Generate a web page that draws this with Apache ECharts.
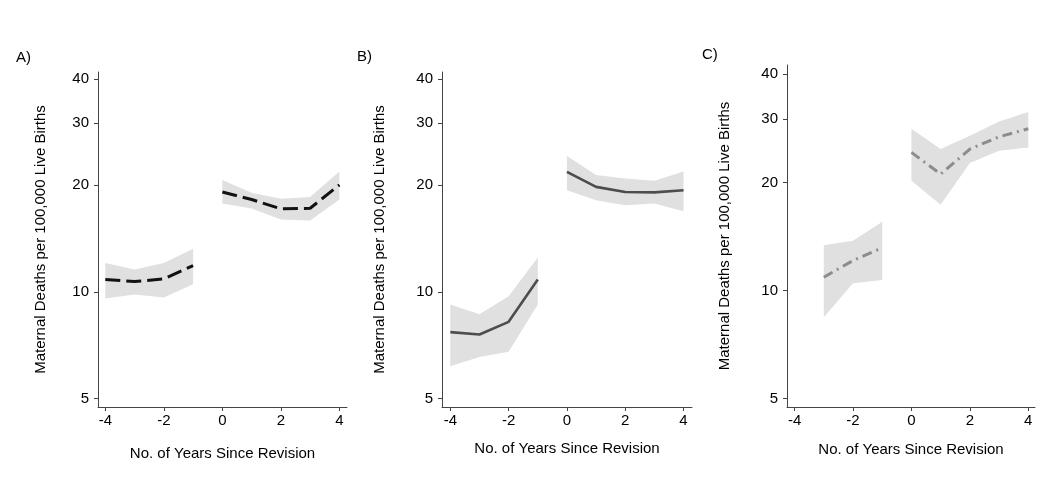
<!DOCTYPE html>
<html><head><meta charset="utf-8">
<script src="https://cdn.jsdelivr.net/npm/echarts@6/dist/echarts.min.js"></script>
<style>html,body{margin:0;padding:0;background:#fff}#c{width:1049px;height:483px}</style>
</head><body><div id="c"></div>
<script>
// ---- data ----
const xPre = [-4, -3, -2, -1];
const xPreC = [-3, -2, -1];
const xPost = [0, 1, 2, 3, 4];
const xTicks = [-4, -2, 0, 2, 4];
const yTicks = [5, 10, 20, 30, 40];

const A_est_pre = [10.84, 10.7, 10.88, 11.87];
const A_est_post = [19.16, 18.24, 17.16, 17.23, 20.05];
const A_hi_pre = [12.07, 11.57, 12.07, 13.23];
const A_hi_post = [20.7, 19.05, 18.32, 18.55, 21.88];
const A_lo_pre = [9.58, 9.83, 9.64, 10.51];
const A_lo_post = [17.78, 17.2, 16.02, 15.91, 18.24];

const B_est_pre = [7.7, 7.58, 8.23, 10.84];
const B_est_post = [21.83, 19.8, 19.16, 19.1, 19.38];
const B_hi_pre = [9.21, 8.65, 9.72, 12.5];
const B_hi_post = [24.2, 21.4, 20.9, 20.6, 21.9];
const B_lo_pre = [6.17, 6.55, 6.77, 9.21];
const B_lo_post = [19.38, 18.16, 17.58, 17.78, 16.9];

const C_est_pre = [10.89, 12.12, 13.14];
const C_est_post = [24.24, 21.1, 24.76, 26.8, 28.2];
const C_hi_pre = [13.36, 13.77, 15.55];
const C_hi_post = [28.2, 24.76, 26.97, 29.55, 31.4];
const C_lo_pre = [8.43, 10.48, 10.7];
const C_lo_post = [20.2, 17.34, 22.64, 24.5, 25.0];

const panelLabels = ['A)', 'B)', 'C)'];
const yName = 'Maternal Deaths per 100,000 Live Births';
const xName = 'No. of Years Since Revision';

// ---- chart ----
const FONT = "'Liberation Sans', Arial, sans-serif";
const AXIS_COLOR = '#444';
const BAND = '#e0e0e0';
const FS = 15;

const grids = [
  {left: 98, width: 249, top: 72, height: 335},
  {left: 442, width: 250, top: 72, height: 335},
  {left: 787, width: 248, top: 65, height: 342}
];
const xRange = [[-4.25, 4.26], [-4.285, 4.29], [-4.26, 4.23]];
const yRange = [[4.73, 41.8], [4.73, 41.8], [4.74, 42.45]];
const yNameGap = [50, 55, 55];
const xNameGap = [39, 34, 35];

function xAxis(i) {
  return {
    type: 'value', gridIndex: i, min: xRange[i][0], max: xRange[i][1],
    name: xName, nameLocation: 'middle', nameGap: xNameGap[i],
    nameTextStyle: {fontFamily: FONT, fontSize: FS, color: '#000'},
    axisLine: {show: true, onZero: false, lineStyle: {color: AXIS_COLOR, width: 1}},
    axisTick: {show: true, length: 4, customValues: xTicks, lineStyle: {color: AXIS_COLOR}},
    axisLabel: {customValues: xTicks, margin: 6, fontFamily: FONT, fontSize: FS, color: '#000'},
    splitLine: {show: false}
  };
}
function yAxis(i) {
  return {
    type: 'log', logBase: 10, gridIndex: i, min: yRange[i][0], max: yRange[i][1],
    name: yName, nameLocation: 'middle', nameGap: yNameGap[i], nameRotate: 90,
    nameTextStyle: {fontFamily: FONT, fontSize: FS, color: '#000'},
    axisLine: {show: true, onZero: false, lineStyle: {color: AXIS_COLOR, width: 1}},
    axisTick: {show: true, length: 4, customValues: yTicks, lineStyle: {color: AXIS_COLOR}},
    axisLabel: {customValues: yTicks, margin: 9, fontFamily: FONT, fontSize: FS, color: '#000',
      formatter: v => String(Math.round(v))},
    splitLine: {show: false}
  };
}
function band(i, xs, hi, lo) {
  return {
    type: 'custom', xAxisIndex: i, yAxisIndex: i, silent: true, z: 1,
    data: xs.map((x, k) => [x, hi[k], lo[k]]),
    encode: {x: 0, y: [1, 2]},
    renderItem: (params, api) => {
      if (params.dataIndex !== 0) return null;
      const top = xs.map((x, k) => api.coord([x, hi[k]]));
      const bot = xs.map((x, k) => api.coord([x, lo[k]])).reverse();
      return {type: 'polygon', shape: {points: top.concat(bot)}, style: {fill: BAND}};
    }
  };
}
function line(i, xs, ys, color, width, dash) {
  return {
    type: 'line', xAxisIndex: i, yAxisIndex: i, z: 3, silent: true,
    data: xs.map((x, k) => [x, ys[k]]),
    showSymbol: false, symbol: 'none',
    lineStyle: {color: color, width: width, type: dash, cap: 'butt'}
  };
}

const aStyle = ['#111', 3, [15, 6]];
const bStyle = ['#4d4d4d', 2.6, 'solid'];
const cStyle = ['#8c8c8c', 3, [10, 5, 2, 5]];

const option = {
  animation: false,
  backgroundColor: '#fff',
  grid: grids,
  xAxis: [xAxis(0), xAxis(1), xAxis(2)],
  yAxis: [yAxis(0), yAxis(1), yAxis(2)],
  graphic: [
    {type: 'text', left: 16, top: 50, style: {text: panelLabels[0], font: FS + 'px ' + FONT, fill: '#000'}},
    {type: 'text', left: 357, top: 49, style: {text: panelLabels[1], font: FS + 'px ' + FONT, fill: '#000'}},
    {type: 'text', left: 702, top: 47, style: {text: panelLabels[2], font: FS + 'px ' + FONT, fill: '#000'}}
  ],
  series: [
    band(0, xPre, A_hi_pre, A_lo_pre), band(0, xPost, A_hi_post, A_lo_post),
    band(1, xPre, B_hi_pre, B_lo_pre), band(1, xPost, B_hi_post, B_lo_post),
    band(2, xPreC, C_hi_pre, C_lo_pre), band(2, xPost, C_hi_post, C_lo_post),
    line(0, xPre, A_est_pre, ...aStyle), line(0, xPost, A_est_post, ...aStyle),
    line(1, xPre, B_est_pre, ...bStyle), line(1, xPost, B_est_post, ...bStyle),
    line(2, xPreC, C_est_pre, ...cStyle), line(2, xPost, C_est_post, ...cStyle)
  ]
};
const chart = echarts.init(document.getElementById('c'), null, {renderer: 'canvas'});
chart.setOption(option);
</script></body></html>
